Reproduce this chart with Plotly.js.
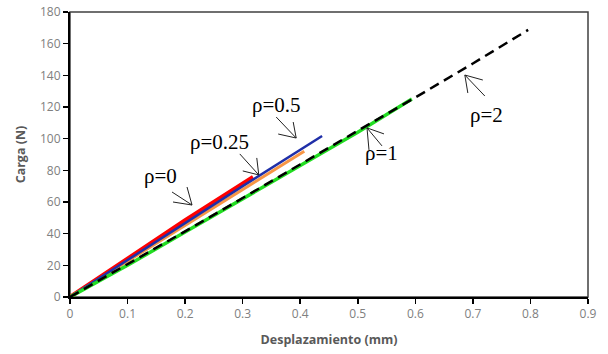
<!DOCTYPE html>
<html>
<head>
<meta charset="utf-8">
<script src="https://cdn.plot.ly/plotly-3.0.1.min.js"></script>
<style>html,body{margin:0;padding:0;background:#fff;}#chart{width:608px;height:354px;}</style>
</head>
<body>
<div id="chart"></div>
<script>
// Series data: displacement (mm) vs load (N)
const rho0_x = [0, 0.1, 0.2, 0.318];
const rho0_y = [0, 24.5, 48.5, 75.8];
const rho025_x = [0, 0.1, 0.2, 0.3, 0.407];
const rho025_y = [0, 22.5, 45, 68, 92];
const rho05_x = [0, 0.1, 0.2, 0.3, 0.438];
const rho05_y = [0, 23.5, 47, 70, 101.7];
const rho1_x = [0, 0.1, 0.2, 0.3, 0.4, 0.5, 0.594];
const rho1_y = [0, 20, 41, 62, 83, 104, 125];
const rho2_x = [0, 0.1, 0.2, 0.3, 0.4, 0.5, 0.6, 0.7, 0.796];
const rho2_y = [0, 20.5, 41.5, 62.5, 84, 105, 126, 147.5, 168.7];

const labels = ["ρ=0", "ρ=0.25", "ρ=0.5", "ρ=1", "ρ=2"];
const labelX = [0.158, 0.259, 0.358, 0.542, 0.7245];
const labelY = [76.4, 97.9, 121.3, 91, 115];
const tipX = [0.212, 0.328, 0.393, 0.516, 0.686];
const tipY = [58.1, 77.1, 100.4, 106.8, 140.2];
// arrow lines: pixel offsets from tip (screen coords, y down)
const barbs = [
  [[-20,-13],[-5,-18],[-19,-3]],
  [[-19,-21],[-2,-17],[-16,-4]],
  [[-20,-21],[-3,-16],[-18,-4]],
  [[2,22],[15,18],[17,6]],
  [[3,18],[20,21],[18,5]]
];

const xTicks = [0,0.1,0.2,0.3,0.4,0.5,0.6,0.7,0.8,0.9];
const yTicks = [0,20,40,60,80,100,120,140,160,180];

const traces = [
  {x: rho0_x, y: rho0_y, mode:'lines', line:{color:'#ff0000', width:4}},
  {x: rho025_x, y: rho025_y, mode:'lines', line:{color:'#f79646', width:3}},
  {x: rho05_x, y: rho05_y, mode:'lines', line:{color:'#1f2fa8', width:2.5}},
  {x: rho1_x, y: rho1_y, mode:'lines', line:{color:'#22dd22', width:3.5}},
  {x: rho2_x, y: rho2_y, mode:'lines', line:{color:'#000000', width:2.5, dash:'10px,6px'}}
];

const shapes = [{type:'rect', xref:'paper', yref:'paper', x0:0, x1:1, y0:0, y1:1,
  line:{color:'#404040', width:1.5}, layer:'below'}];
barbs.forEach((set, i) => {
  set.forEach(o => {
    shapes.push({type:'line', xref:'x', yref:'y', xsizemode:'pixel', ysizemode:'pixel',
      xanchor: tipX[i], yanchor: tipY[i], x0:0, y0:0, x1:o[0], y1:-o[1],
      line:{color:'#222', width:1}});
  });
});

const annotations = labels.map((t, i) => ({
  x: labelX[i], y: labelY[i], xref:'x', yref:'y', text: t, showarrow:false,
  font:{family:'Liberation Serif', size:21, color:'#000'}
}));

const tickFont = {family:'Open Sans', size:12, color:'#808080'};
const layout = {
  width:608, height:354,
  margin:{l:70, r:20, t:12, b:57},
  paper_bgcolor:'#fff', plot_bgcolor:'#fff',
  showlegend:false,
  xaxis:{range:[0,0.9], tickvals:xTicks, ticktext:xTicks.map(String), showgrid:false, zeroline:false,
    showline:true, linecolor:'#000', linewidth:2, ticks:'outside', ticklen:5, tickwidth:1.5, tickcolor:'#000',
    tickfont:tickFont,
    title:{text:'Desplazamiento (mm)', font:{family:'Open Sans', size:12.5, color:'#595959', weight:'bold'}, standoff:14}},
  yaxis:{range:[0,180], tickvals:yTicks, ticktext:yTicks.map(String), showgrid:false, zeroline:false,
    showline:true, linecolor:'#000', linewidth:2, ticks:'outside', ticklen:5, tickwidth:1.5, tickcolor:'#000',
    tickfont:tickFont,
    title:{text:'Carga (N)', font:{family:'Open Sans', size:12.5, color:'#595959', weight:'bold'}, standoff:12}},
  shapes: shapes,
  annotations: annotations
};
Plotly.newPlot('chart', traces, layout, {displayModeBar:false, staticPlot:true});
</script>
</body>
</html>
